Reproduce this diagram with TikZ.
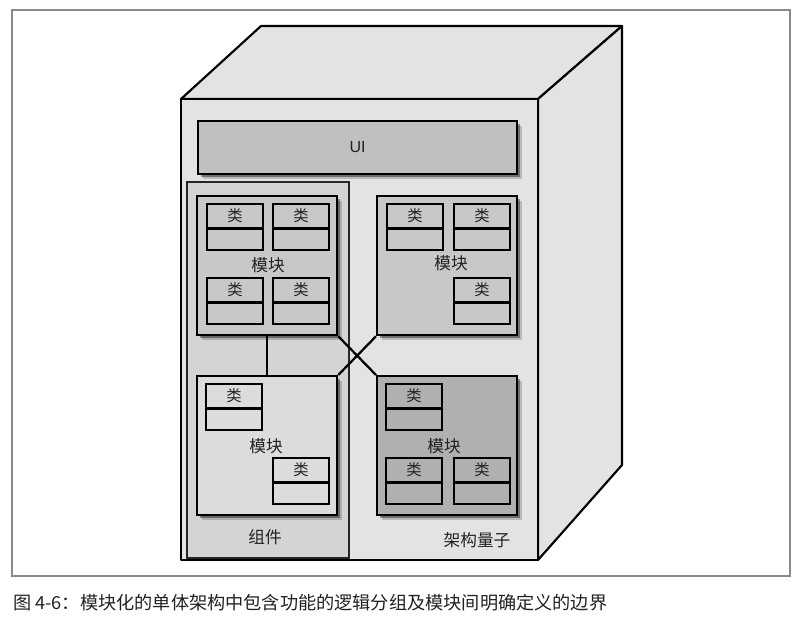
\documentclass[tikz,border=0pt]{standalone}
\usepackage{fontspec}
\usepackage{graphicx}
\setmainfont{Liberation Sans}
\newfontfamily\cjk{Noto Sans CJK SC}
\usetikzlibrary{shadows,calc}
\definecolor{framegray}{HTML}{8A8A8A}
\definecolor{facegray}{HTML}{E3E3E3}
\definecolor{uigray}{HTML}{C0C0C0}
\definecolor{compgray}{HTML}{D4D4D4}
\definecolor{modA}{HTML}{C8C8C8}
\definecolor{modB}{HTML}{DCDCDC}
\definecolor{modC}{HTML}{B0B0B0}
\definecolor{txt}{HTML}{222222}
\begin{document}
\begin{tikzpicture}[x=0.75pt,y=-0.75pt,
  cubeface/.style={fill=facegray,draw=black,line width=1.6pt,line join=round},
  shadowed/.style={
    drop shadow={shadow xshift=4pt,shadow yshift=-4pt,fill=black,opacity=0.18},
    drop shadow={shadow xshift=2.5pt,shadow yshift=-2.5pt,fill=black,opacity=0.4}},
  uibox/.style={draw=black,line width=1.6pt,fill=uigray,shadowed,inner sep=0pt,anchor=north west,
    minimum width=239.25pt,minimum height=39.75pt,font=\fontsize{12pt}{14pt}\selectfont,text=txt},
  compbox/.style={draw=black!85,line width=1.4pt,fill=compgray,inner sep=0pt,anchor=north west,
    minimum width=121.5pt,minimum height=282pt},
  modbox/.style={draw=black,line width=1.7pt,inner sep=0pt,anchor=north west,shadowed,
    minimum width=105pt,minimum height=104.25pt},
  classbox/.style={draw=black,line width=1.7pt,inner sep=0pt,anchor=north west,
    minimum width=42pt,minimum height=34.5pt,
    path picture={\draw[line width=1.7pt]
      ($(path picture bounding box.north west)!0.53!(path picture bounding box.south west)$) --
      ($(path picture bounding box.north east)!0.53!(path picture bounding box.south east)$);},
    label={[anchor=center,yshift=-9.2pt,font=\cjk\fontsize{11.5pt}{13pt}\selectfont,text=txt]north:类}},
  cjklabel/.style={font=\cjk\fontsize{12.5pt}{14pt}\selectfont,text=txt,inner sep=0pt},
  link/.style={draw=black,line width=1.7pt}
]
\useasboundingbox (0,0) rectangle (800,617);
\fill[white] (0,0) rectangle (800,617);
\draw[framegray,line width=1.2pt] (12,10) rectangle (790,576);
% cube
\filldraw[cubeface] (181,99) -- (261,26) -- (622,26) -- (538,99) -- cycle;
\filldraw[cubeface] (538,99) -- (622,26) -- (622,465) -- (538,560) -- cycle;
\filldraw[cubeface] (181,99) rectangle (538,560);
% UI
\node[uibox] (ui) at (197,120) {UI};
% component
\node[compbox] (comp) at (186,181) {};
\node[cjklabel] (complabel) at (265,537) {组件};
% modules
\node[modbox,fill=modA] (m1) at (196,195) {};
\node[modbox,fill=modA] (m2) at (376,195) {};
\node[modbox,fill=modB] (m3) at (196,375) {};
\node[modbox,fill=modC] (m4) at (376,375) {};
% connectors
\draw[link] (m1.south) -- (m3.north);
\draw[link] (m1.south east) -- (m4.north west);
\draw[link] (m3.north east) -- (m2.south west);
% module labels
\node[cjklabel] (m1l) at (268,265) {模块};
\node[cjklabel] (m2l) at (451,263) {模块};
\node[cjklabel] (m3l) at (266,446) {模块};
\node[cjklabel] (m4l) at (444,446) {模块};
% classes
\node[classbox,fill=modA] (c11) at (206,203) {};
\node[classbox,fill=modA] (c12) at (272,203) {};
\node[classbox,fill=modA] (c13) at (206,277) {};
\node[classbox,fill=modA] (c14) at (272,277) {};
\node[classbox,fill=modA] (c21) at (386,203) {};
\node[classbox,fill=modA] (c22) at (453,203) {};
\node[classbox,fill=modA] (c23) at (453,277) {};
\node[classbox,fill=modB] (c31) at (205,383) {};
\node[classbox,fill=modB] (c32) at (272,457) {};
\node[classbox,fill=modC] (c41) at (385,383) {};
\node[classbox,fill=modC] (c42) at (385,457) {};
\node[classbox,fill=modC] (c43) at (453,457) {};
% quantum label
\node[cjklabel] (quantum) at (477,540) {架构量子};
% caption
\node[anchor=west,inner sep=0pt,text=txt] (caption) at (13,603)
  {\resizebox{445.5pt}{\height}{\cjk\fontsize{13.5pt}{16pt}\selectfont 图 4-6：模块化的单体架构中包含功能的逻辑分组及模块间明确定义的边界}};
\end{tikzpicture}
\end{document}
